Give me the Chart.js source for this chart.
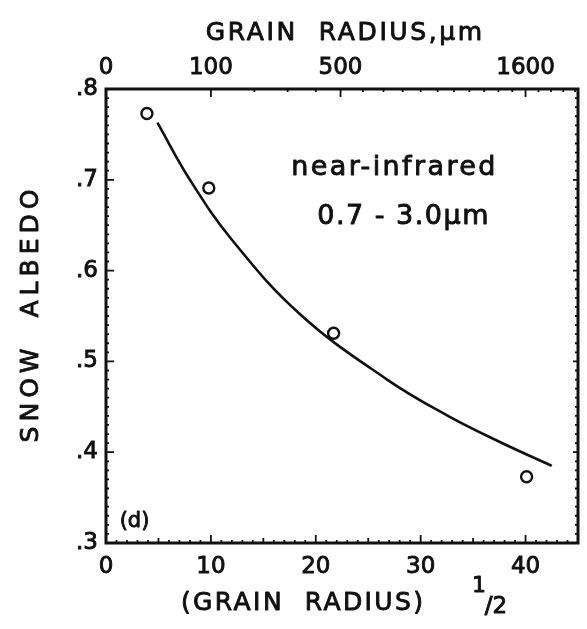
<!DOCTYPE html>
<html>
<head>
<meta charset="utf-8">
<script src="https://cdn.jsdelivr.net/npm/chart.js@4/dist/chart.umd.min.js"></script>
<style>
  html, body { margin: 0; padding: 0; background: #fff; }
  canvas { display: block; }
</style>
</head>
<body>
<canvas id="albedo" width="587" height="629"></canvas>
<script>
// Measured near-infrared snow albedo against (grain radius)^1/2
const sqrtRadius = [3.9, 9.8, 21.7, 40.1];
const albedo = [0.773, 0.691, 0.531, 0.373];

// Model curve through the measurements
const curveSqrtRadius = [4.9, 8.0, 12.0, 18.5, 26.8, 32.6, 37.6, 42.5];
const curveAlbedo = [0.763, 0.700, 0.634, 0.552, 0.480, 0.440, 0.411, 0.385];

// Axis ticks
const bottomTicks = [0, 10, 20, 30, 40];
const leftTicks = [0.3, 0.4, 0.5, 0.6, 0.7, 0.8];
const topTickRadii = [0, 100, 500, 1600];          // grain radius, µm
const topMinorRadii = [200, 300, 400, 600, 700, 800, 900, 1000, 1100, 1200,
                       1300, 1400, 1500, 1700, 1800, 1900, 2000];

const INK = '#111';
const FONT = '"DejaVu Sans", sans-serif';

function spacedText(ctx, text, x, y, size, spacing, align, rot) {
  ctx.save();
  ctx.font = size + 'px ' + FONT;
  ctx.fillStyle = INK;
  ctx.strokeStyle = INK;
  ctx.lineWidth = 0.9;
  ctx.lineJoin = 'round';
  ctx.letterSpacing = spacing + 'px';
  ctx.textBaseline = 'middle';
  ctx.translate(x, y);
  if (rot) ctx.rotate(rot);
  const w = ctx.measureText(text).width - spacing;
  let dx = 0;
  if (align === 'center') dx = -w / 2;
  else if (align === 'right') dx = -w;
  ctx.textAlign = 'left';
  ctx.fillText(text, dx, 0);
  ctx.strokeText(text, dx, 0);
  ctx.restore();
}

// Frame, inward tick marks, titles and notes
const framePlugin = {
  id: 'frame',
  afterDraw(chart) {
    const ctx = chart.ctx;
    const a = chart.chartArea;
    const x = chart.scales.x, y = chart.scales.y;
    ctx.save();
    ctx.strokeStyle = INK;
    ctx.lineCap = 'butt';

    // ticks
    ctx.lineWidth = 1.8;
    ctx.beginPath();
    for (let v = 0; v <= 45; v += 1) {
      const px = x.getPixelForValue(v);
      const len = v % 10 === 0 ? 8 : (v % 5 === 0 ? 5 : 3);
      ctx.moveTo(px, a.bottom); ctx.lineTo(px, a.bottom - len);
    }
    for (let i = 30; i <= 80; i++) {
      const py = y.getPixelForValue(i / 100);
      const len = i % 10 === 0 ? 8 : 3;
      ctx.moveTo(a.left, py); ctx.lineTo(a.left + len, py);
      ctx.moveTo(a.right, py); ctx.lineTo(a.right - (i % 10 === 0 ? 5 : 3), py);
    }
    topTickRadii.forEach(r => {
      const px = x.getPixelForValue(Math.sqrt(r));
      ctx.moveTo(px, a.top); ctx.lineTo(px, a.top + 8);
    });
    topMinorRadii.forEach(r => {
      const px = x.getPixelForValue(Math.sqrt(r));
      ctx.moveTo(px, a.top); ctx.lineTo(px, a.top + 3);
    });
    ctx.stroke();

    // frame
    ctx.lineWidth = 3;
    ctx.strokeRect(a.left, a.top, a.right - a.left, a.bottom - a.top);
    ctx.restore();

    // axis titles
    spacedText(ctx, 'GRAIN  RADIUS,\u03bcm', (a.left + a.right) / 2 + 2, 33, 25, 2.6, 'center');
    spacedText(ctx, 'SNOW  ALBEDO', 31, (a.top + a.bottom) / 2, 25, 5, 'center', -Math.PI / 2);
    spacedText(ctx, '(GRAIN  RADIUS)', 302, 603, 25, 2.4, 'center');
    spacedText(ctx, '1', 479, 586, 22, 0, 'center');
    spacedText(ctx, '/2', 496, 607, 23, 0, 'center');

    // notes inside the plot
    spacedText(ctx, 'near-infrared', x.getPixelForValue(27.4), y.getPixelForValue(0.713), 27, 2.4, 'center');
    spacedText(ctx, '0.7 - 3.0\u03bcm', x.getPixelForValue(28.3), y.getPixelForValue(0.659), 27, 1.5, 'center');
    spacedText(ctx, '(d)', x.getPixelForValue(1.3), y.getPixelForValue(0.324), 21, 0, 'left');
  }
};

const tickFont = { family: FONT, size: 23 };
const tickStyle = { font: tickFont, color: INK, textStrokeColor: INK, textStrokeWidth: 0.9 };

new Chart(document.getElementById('albedo'), {
  type: 'scatter',
  data: {
    datasets: [
      {
        type: 'line',
        label: 'model',
        data: curveSqrtRadius.map((v, i) => ({ x: v, y: curveAlbedo[i] })),
        borderColor: INK,
        borderWidth: 2.6,
        pointRadius: 0,
        fill: false,
        tension: 0.4
      },
      {
        label: 'measured',
        data: sqrtRadius.map((v, i) => ({ x: v, y: albedo[i] })),
        pointStyle: 'circle',
        pointRadius: 5.5,
        pointBorderWidth: 2.4,
        pointBorderColor: INK,
        pointBackgroundColor: '#fff'
      }
    ]
  },
  options: {
    responsive: false,
    animation: false,
    devicePixelRatio: 1,
    layout: { padding: { left: 0, right: 9, top: 0, bottom: 0 } },
    plugins: { legend: { display: false }, tooltip: { enabled: false } },
    scales: {
      x: {
        type: 'linear', position: 'bottom', min: 0, max: 45,
        grid: { display: false, drawTicks: false },
        border: { display: false },
        afterBuildTicks: s => { s.ticks = bottomTicks.map(v => ({ value: v })); },
        afterFit: s => { s.height = 86; },
        ticks: Object.assign({ padding: 10, maxRotation: 0, autoSkip: false }, tickStyle)
      },
      x2: {
        type: 'linear', position: 'top', min: 0, max: 45,
        grid: { display: false, drawTicks: false },
        border: { display: false },
        afterBuildTicks: s => { s.ticks = topTickRadii.map(r => ({ value: Math.sqrt(r) })); },
        afterFit: s => { s.height = 89; },
        ticks: Object.assign({
          padding: 7, maxRotation: 0, autoSkip: false,
          callback: v => String(Math.round(v * v))
        }, tickStyle)
      },
      y: {
        type: 'linear', position: 'left', min: 0.3, max: 0.8,
        grid: { display: false, drawTicks: false },
        border: { display: false },
        afterBuildTicks: s => { s.ticks = leftTicks.map(v => ({ value: v })); },
        afterFit: s => { s.width = 106; },
        ticks: Object.assign({
          padding: 8,
          callback: v => '.' + Math.round(v * 10)
        }, tickStyle)
      }
    }
  },
  plugins: [framePlugin]
});
</script>
</body>
</html>
